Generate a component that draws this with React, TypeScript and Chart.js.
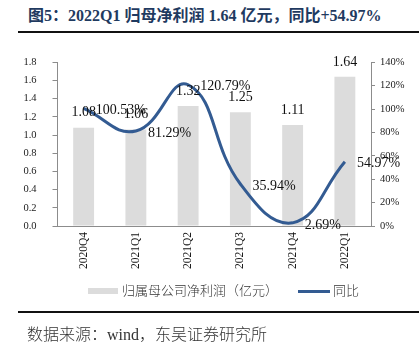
import React, { useEffect, useRef } from 'react';
import { Chart, registerables } from 'chart.js';

Chart.register(...registerables);

const categories = ['2020Q4', '2021Q1', '2021Q2', '2021Q3', '2021Q4', '2022Q1'];
const netProfit = [1.08, 1.06, 1.32, 1.25, 1.11, 1.64];
const yoy = [100.53, 81.29, 120.79, 35.94, 2.69, 54.97];
const leftTicks = { min: 0, max: 1.8, step: 0.2 };
const rightTicks = { min: 0, max: 140, step: 20 };

const titleText = '图5：2022Q1 归母净利润 1.64 亿元，同比+54.97%';
const barLabel = '归属母公司净利润（亿元）';
const lineLabel = '同比';
const sourceText = '数据来源：wind，东吴证券研究所';

const BAR_COLOR = '#DCDCDC';
const LINE_COLOR = '#335B92';
const AXIS_COLOR = '#8C8C8C';
const SERIF = '"Liberation Serif", "Times New Roman", "Noto Sans CJK SC", serif';

const labelPlugin = {
  id: 'valueLabels',
  afterDatasetsDraw(chart: any) {
    const ctx = chart.ctx;
    ctx.save();
    ctx.font = '14px "Liberation Serif"';
    ctx.fillStyle = '#111';
    const barMeta = chart.getDatasetMeta(0);
    barMeta.data.forEach((el: any, i: number) => {
      ctx.textAlign = 'center';
      ctx.textBaseline = 'middle';
      ctx.fillText(netProfit[i].toFixed(2), el.x, el.y - 15);
    });
    const lineMeta = chart.getDatasetMeta(1);
    lineMeta.data.forEach((el: any, i: number) => {
      ctx.textAlign = 'left';
      ctx.textBaseline = 'middle';
      ctx.fillText(yoy[i].toFixed(2) + '%', el.x + 12, el.y + 2);
    });
    ctx.restore();
  },
};

export default function App() {
  const ref = useRef<HTMLCanvasElement | null>(null);

  useEffect(() => {
    if (!ref.current) return;
    Chart.defaults.font.family = SERIF;
    const chart = new Chart(ref.current, {
      type: 'bar',
      data: {
        labels: categories,
        datasets: [
          {
            type: 'bar',
            label: barLabel,
            data: netProfit,
            backgroundColor: BAR_COLOR,
            yAxisID: 'y',
            barPercentage: 0.4,
            categoryPercentage: 1,
            order: 1,
          },
          {
            type: 'line',
            label: lineLabel,
            data: yoy,
            borderColor: LINE_COLOR,
            backgroundColor: LINE_COLOR,
            borderWidth: 3,
            pointRadius: 0,
            tension: 0.45,
            yAxisID: 'y1',
            order: 0,
            clip: false as any,
          },
        ],
      },
      options: {
        animation: false,
        responsive: false,
        devicePixelRatio: 1,
        layout: { padding: { top: 18, left: 0, right: 0, bottom: 0 } },
        plugins: { legend: { display: false }, tooltip: { enabled: false } },
        scales: {
          x: {
            grid: { display: true, drawOnChartArea: false, drawTicks: false },
            border: { display: true, color: AXIS_COLOR },
            ticks: {
              minRotation: 90,
              maxRotation: 90,
              padding: 6,
              color: '#111',
              font: { size: 11.5, family: SERIF },
            },
            afterFit: (s: any) => { s.height = 59; },
          },
          y: {
            position: 'left',
            min: leftTicks.min,
            max: leftTicks.max,
            grid: { drawOnChartArea: false, drawTicks: true, tickLength: 5, color: AXIS_COLOR },
            border: { display: true, color: AXIS_COLOR },
            ticks: {
              stepSize: leftTicks.step,
              padding: 16,
              color: '#222',
              font: { size: 10.5, family: SERIF },
              callback: (v: any) => Number(v).toFixed(1),
            },
            afterFit: (s: any) => { s.width = 57.5; },
          },
          y1: {
            position: 'right',
            min: rightTicks.min,
            max: rightTicks.max,
            grid: { drawOnChartArea: false, drawTicks: true, tickLength: 4, color: AXIS_COLOR },
            border: { display: true, color: AXIS_COLOR },
            ticks: {
              stepSize: rightTicks.step,
              padding: 5,
              color: '#222',
              font: { size: 10.5, family: SERIF },
              callback: (v: any) => v + '%',
            },
            afterFit: (s: any) => { s.width = 48; },
          },
        },
      },
      plugins: [labelPlugin],
    } as any);
    return () => chart.destroy();
  }, []);

  return (
    <div style={{ position: 'fixed', left: 0, top: 0, width: 419, height: 354, background: '#fff', overflow: 'hidden', fontFamily: SERIF }}>
      <div style={{ position: 'absolute', left: 28, top: 5, fontSize: 16, fontWeight: 'bold', color: '#1F3A60', whiteSpace: 'nowrap', lineHeight: '22px' }}>
        {titleText}
      </div>
      <div style={{ position: 'absolute', left: 18, top: 31, width: 401, height: 2, background: '#111' }} />
      <canvas ref={ref} width={419} height={245} style={{ position: 'absolute', left: 0, top: 40, width: 419, height: 245 }} />
      <div style={{ position: 'absolute', left: 88, top: 288, width: 30, height: 6, background: BAR_COLOR }} />
      <div style={{ position: 'absolute', left: 122, top: 283, fontSize: 13, fontWeight: 300, lineHeight: '16px', color: '#333', whiteSpace: 'nowrap' }}>{barLabel}</div>
      <div style={{ position: 'absolute', left: 298, top: 290, width: 32, height: 3, background: LINE_COLOR }} />
      <div style={{ position: 'absolute', left: 333, top: 283, fontSize: 13, fontWeight: 300, lineHeight: '16px', color: '#333', whiteSpace: 'nowrap' }}>{lineLabel}</div>
      <div style={{ position: 'absolute', left: 18, top: 311, width: 401, height: 2, background: '#111' }} />
      <div style={{ position: 'absolute', left: 27, top: 325, fontSize: 16, fontWeight: 300, lineHeight: '20px', color: '#333', whiteSpace: 'nowrap' }}>{sourceText}</div>
    </div>
  );
}
